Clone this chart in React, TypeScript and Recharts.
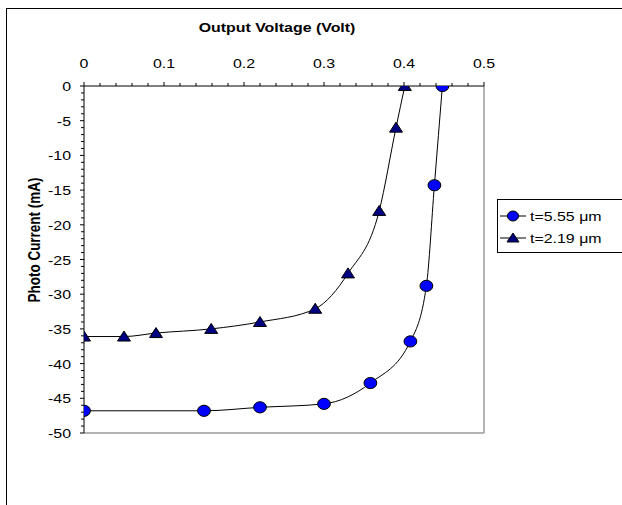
import React from 'react';
import { LineChart, Line, XAxis, YAxis, ReferenceLine } from 'recharts';

const seriesA = { name: 't=5.55 μm' };
const seriesB = { name: 't=2.19 μm' };

const voltageA = [0, 0.15, 0.22, 0.30, 0.358, 0.408, 0.428, 0.438, 0.448];
const currentA = [-46.8, -46.8, -46.3, -45.8, -42.8, -36.8, -28.8, -14.3, 0];

const voltageB = [0, 0.05, 0.09, 0.159, 0.22, 0.289, 0.33, 0.369, 0.39, 0.401];
const currentB = [-36.1, -36.1, -35.6, -35.0, -34.0, -32.1, -27.0, -18.0, -6.0, 0];

const xMajorTicks = [0, 0.1, 0.2, 0.3, 0.4, 0.5];
const yMajorTicks = [0, -5, -10, -15, -20, -25, -30, -35, -40, -45, -50];

const xTitle = 'Output Voltage (Volt)';
const yTitle = 'Photo Current (mA)';

const xAllTicks: number[] = [];
for (let i = 0; i <= 25; i++) xAllTicks.push(Math.round(i * 2) / 100);
const yAllTicks: number[] = [];
for (let i = 0; i <= 50; i++) yAllTicks.push(-i);

const dataA = voltageA.map((v, i) => ({ v, c: currentA[i] }));
const dataB = voltageB.map((v, i) => ({ v, c: currentB[i] }));

const FONT = '"Liberation Sans", Arial, Helvetica, sans-serif';
const FS = 13.5;
const SX = 1.18;

const isXMajor = (v: number) => xMajorTicks.some((m) => Math.abs(m - v) < 1e-9);
const isYMajor = (v: number) => yMajorTicks.some((m) => Math.abs(m - v) < 1e-9);

const SText = (p: any) => {
  const { x, y, anchor, bold, children } = p;
  return (
    <text
      transform={`translate(${x},${y}) scale(${SX},1)`}
      x={0}
      y={0}
      textAnchor={anchor}
      fontSize={FS}
      fontWeight={bold ? 'bold' : 'normal'}
      fontFamily={FONT}
      fill="#000"
    >
      {children}
    </text>
  );
};

const XTick = (p: any) => {
  const { x, y, payload } = p;
  const major = isXMajor(payload.value);
  return (
    <g>
      <line x1={x} x2={x} y1={y} y2={y - (major ? 4 : 3)} stroke="#000" strokeWidth={1} />
      {major && (
        <SText x={x} y={y - 18} anchor="middle">
          {String(payload.value)}
        </SText>
      )}
    </g>
  );
};

const YTick = (p: any) => {
  const { x, y, payload } = p;
  const major = isYMajor(payload.value);
  return (
    <g>
      <line x1={x} x2={x - (major ? 4 : 3)} y1={y} y2={y} stroke="#000" strokeWidth={1} />
      {major && (
        <SText x={x - 13} y={y + 5} anchor="end">
          {String(payload.value)}
        </SText>
      )}
    </g>
  );
};

const Circle = (p: any) => {
  const { cx, cy } = p;
  if (cx == null || cy == null) return null;
  return <ellipse cx={cx} cy={cy} rx={6.4} ry={5.6} fill="#0000FF" stroke="#000" strokeWidth={1} />;
};

const Tri = (p: any) => {
  const { cx, cy } = p;
  if (cx == null || cy == null) return null;
  return (
    <path
      d={`M${cx},${cy - 5.5} L${cx + 6.5},${cy + 4.5} L${cx - 6.5},${cy + 4.5} Z`}
      fill="#000080"
      stroke="#000"
      strokeWidth={1}
    />
  );
};

const LegendBox = () => (
  <div
    style={{
      position: 'absolute',
      left: 497,
      top: 199,
      border: '1px solid #000',
      width: 160,
      height: 52,
      background: '#fff',
      fontFamily: FONT,
      fontSize: FS,
    }}
  >
    {[seriesA, seriesB].map((s, i) => (
      <div key={s.name} style={{ position: 'absolute', left: 2, top: 7 + i * 22, height: 18, display: 'flex', alignItems: 'center' }}>
        <svg width={26} height={18}>
          <line x1={0} x2={26} y1={9} y2={9} stroke="#000" strokeWidth={1} />
          {i === 0 ? (
            <ellipse cx={13} cy={9} rx={5.6} ry={5} fill="#0000FF" stroke="#000" />
          ) : (
            <path d="M13,4 L19,13 L7,13 Z" fill="#000080" stroke="#000" />
          )}
        </svg>
        <span style={{ marginLeft: 4, whiteSpace: 'nowrap', display: 'inline-block', transform: `scaleX(${SX})`, transformOrigin: 'left center' }}>
          {s.name}
        </span>
      </div>
    ))}
  </div>
);

export default function App() {
  return (
    <div style={{ position: 'absolute', left: 0, top: 0, width: 622, height: 505, overflow: 'hidden', background: '#fff' }}>
      <div
        style={{
          position: 'absolute',
          left: 6,
          top: 8,
          width: 800,
          height: 700,
          borderLeft: '1.5px solid #000',
          borderTop: '1.5px solid #000',
        }}
      />
      <div style={{ position: 'absolute', left: 0, top: 0 }}>
        <LineChart width={622} height={505} margin={{ top: 26, right: 138, bottom: 72, left: 24 }}>
          <XAxis
            xAxisId="x"
            type="number"
            dataKey="v"
            orientation="top"
            domain={[0, 0.5]}
            ticks={xAllTicks}
            interval={0}
            height={60}
            tickSize={0}
            tickMargin={0}
            tickLine={false}
            axisLine={{ stroke: '#000', strokeWidth: 1 }}
            tick={(p: any) => <XTick {...p} />}
            allowDataOverflow
            label={() => (
              <SText x={277} y={32} anchor="middle" bold>
                {xTitle}
              </SText>
            )}
          />
          <YAxis
            yAxisId="y"
            type="number"
            domain={[-50, 0]}
            ticks={yAllTicks}
            interval={0}
            width={60}
            tickSize={0}
            tickMargin={0}
            tickLine={false}
            axisLine={{ stroke: '#000', strokeWidth: 1 }}
            tick={(p: any) => <YTick {...p} />}
            allowDataOverflow
            label={() => (
              <text
                x={0}
                y={0}
                textAnchor="middle"
                fontSize={FS}
                fontWeight="bold"
                fontFamily={FONT}
                fill="#000"
                transform={`translate(40,240) scale(${SX},1) rotate(-90)`}
              >
                {yTitle}
              </text>
            )}
          />
          <ReferenceLine xAxisId="x" yAxisId="y" x={0.5} stroke="#999" strokeWidth={1.5} />
          <ReferenceLine xAxisId="x" yAxisId="y" y={-50} stroke="#999" strokeWidth={1.5} />
          <Line
            xAxisId="x"
            yAxisId="y"
            data={dataA}
            dataKey="c"
            name={seriesA.name}
            type="monotone"
            stroke="#000"
            strokeWidth={1}
            dot={(p: any) => <Circle key={`a${p.index}`} {...p} />}
            isAnimationActive={false}
          />
          <Line
            xAxisId="x"
            yAxisId="y"
            data={dataB}
            dataKey="c"
            name={seriesB.name}
            type="monotone"
            stroke="#000"
            strokeWidth={1}
            dot={(p: any) => <Tri key={`b${p.index}`} {...p} />}
            isAnimationActive={false}
          />
        </LineChart>
      </div>
      <LegendBox />
    </div>
  );
}
